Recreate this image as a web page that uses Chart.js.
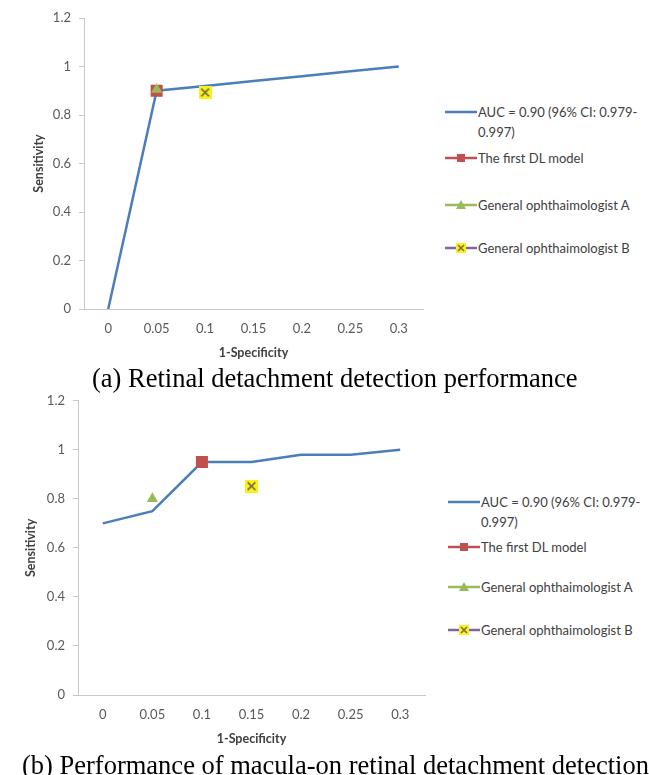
<!DOCTYPE html>
<html>
<head>
<meta charset="utf-8">
<script src="https://cdn.jsdelivr.net/npm/chart.js@4.4.1/dist/chart.umd.min.js"></script>
<style>
body { margin: 0; width: 649px; height: 775px; overflow: hidden; background: #fff; position: relative; font-family: Lato, sans-serif; }
.box { position: absolute; }
.legend { position: absolute; font-size: 13px; color: #404040; }
.item { position: absolute; left: 0; white-space: nowrap; line-height: 20px; }
.item canvas { position: absolute; left: 0; top: 3px; }
.item span { position: absolute; left: 33px; top: 0; }
.cap { position: absolute; font-family: 'Liberation Serif', serif; font-size: 26.5px; line-height: 30px; color: #000; white-space: nowrap; }
</style>
</head>
<body>
<div class="box" style="left:0;top:0;width:440px;height:365px"><canvas id="chartA"></canvas></div>
<div class="box" style="left:0;top:385px;width:440px;height:366px"><canvas id="chartB"></canvas></div>

<div class="legend" id="legendA" style="left:445px;top:0"></div>
<div class="legend" id="legendB" style="left:448px;top:0"></div>

<div class="cap" id="capA" style="left:92px;top:363px">(a) Retinal detachment detection performance</div>
<div class="cap" id="capB" style="left:22px;top:750px">(b) Performance of macula-on retinal detachment detection</div>

<script>
// --- data ---
const xLabels = ['0', '0.05', '0.1', '0.15', '0.2', '0.25', '0.3'];
const yTickLabels = ['0', '0.2', '0.4', '0.6', '0.8', '1', '1.2'];

const rocA = [0, 0.9, 0.92, 0.94, 0.96, 0.98, 1.0];
const dlA = [{ x: '0.05', y: 0.9 }];
const ophAA = [{ x: '0.05', y: 0.905 }];
const ophBA = [{ x: '0.1', y: 0.893 }];

const rocB = [0.7, 0.75, 0.95, 0.95, 0.98, 0.98, 1.0];
const dlB = [{ x: '0.1', y: 0.95 }];
const ophAB = [{ x: '0.05', y: 0.80 }];
const ophBB = [{ x: '0.15', y: 0.852 }];

const legendText = [
    'AUC = 0.90 (96% CI: 0.979-<br>0.997)',
    'The first DL model',
    'General ophthaimologist A',
    'General ophthaimologist B'
];

const BLUE = '#4a7ebb', RED = '#c0504d', GREEN = '#9bbb59', PURPLE = '#8064a2', YELLOW = '#f7f21c';

// yellow box with an x, used for ophthalmologist B
const xMarker = (size) => {
    const c = document.createElement('canvas');
    c.width = size; c.height = size;
    const g = c.getContext('2d');
    g.fillStyle = YELLOW;
    g.fillRect(0, 0, size, size);
    g.strokeStyle = '#7d6e3c';
    g.lineWidth = 1.6;
    const p = size * 0.2;
    g.beginPath();
    g.moveTo(p, p); g.lineTo(size - p, size - p);
    g.moveTo(size - p, p); g.lineTo(p, size - p);
    g.stroke();
    return c;
};

const markerSets = (roc, dl, a, b) => [
    { data: a, showLine: false, pointStyle: 'triangle', pointRadius: 6.5, pointBackgroundColor: GREEN, pointBorderColor: GREEN, borderWidth: 0 },
    { data: dl, showLine: false, pointStyle: 'rect', pointRadius: 8.5, pointBackgroundColor: RED, pointBorderColor: RED, borderWidth: 0 },
    { data: b, showLine: false, pointStyle: xMarker(13), pointRadius: 7 },
    { data: roc, borderColor: BLUE, borderWidth: 2.5, pointRadius: 0, tension: 0 }
];

const makeOptions = (axisW, padTop, padRight, titlePad) => ({
    responsive: true,
    maintainAspectRatio: false,
    animation: false,
    layout: { padding: { top: padTop, right: padRight, left: 0, bottom: 0 } },
    plugins: { legend: { display: false }, tooltip: { enabled: false } },
    scales: {
        x: {
            type: 'category',
            offset: true,
            grid: { display: false, drawTicks: false },
            border: { display: true, color: '#c8c8c8', width: 1 },
            ticks: { color: '#595959', font: { family: 'Lato', size: 13 }, padding: 12, maxRotation: 0 },
            title: { display: true, text: '1-Specificity', color: '#404040', font: { family: 'Lato', size: 12.5, weight: 'bold' }, padding: { top: 4, bottom: 5 } },
            afterFit: (s) => { s.height = 56; }
        },
        y: {
            min: 0, max: 1.2,
            ticks: { stepSize: 0.2, color: '#595959', font: { family: 'Lato', size: 13 }, padding: 8,
                     callback: (v, i) => yTickLabels[i] },
            grid: { drawOnChartArea: false, drawTicks: true, tickLength: 5, color: '#c8c8c8' },
            border: { display: true, color: '#c8c8c8', width: 1 },
            title: { display: true, text: 'Sensitivity', color: '#404040', font: { family: 'Lato', size: 12.5, weight: 'bold' }, padding: { top: titlePad, bottom: 0 } },
            afterFit: (s) => { s.width = axisW; }
        }
    }
});

new Chart(document.getElementById('chartA'), {
    type: 'line',
    data: { labels: xLabels, datasets: markerSets(rocA, dlA, ophAA, ophBA) },
    options: makeOptions(84, 18, 17, 31)
});

new Chart(document.getElementById('chartB'), {
    type: 'line',
    data: { labels: xLabels, datasets: markerSets(rocB, dlB, ophAB, ophBB) },
    options: makeOptions(78, 13, 15, 23)
});

// --- legends ---
const drawSample = (kind) => {
    const c = document.createElement('canvas');
    c.width = 32; c.height = 14;
    const g = c.getContext('2d');
    const col = [BLUE, RED, GREEN, PURPLE][kind];
    g.strokeStyle = col;
    g.lineWidth = 2.5;
    g.beginPath(); g.moveTo(0, 7); g.lineTo(32, 7); g.stroke();
    g.fillStyle = col;
    if (kind === 1) g.fillRect(12, 3, 8, 8);
    if (kind === 2) { g.beginPath(); g.moveTo(16, 2); g.lineTo(21, 11); g.lineTo(11, 11); g.closePath(); g.fill(); }
    if (kind === 3) g.drawImage(xMarker(10), 11, 2);
    return c;
};

const buildLegend = (id, tops) => {
    const box = document.getElementById(id);
    legendText.forEach((t, i) => {
        const it = document.createElement('div');
        it.className = 'item';
        it.style.top = tops[i] + 'px';
        it.appendChild(drawSample(i));
        const sp = document.createElement('span');
        sp.innerHTML = t;
        it.appendChild(sp);
        box.appendChild(it);
    });
};
buildLegend('legendA', [102, 148, 195, 238]);
buildLegend('legendB', [492, 537, 577, 620]);
</script>
</body>
</html>
